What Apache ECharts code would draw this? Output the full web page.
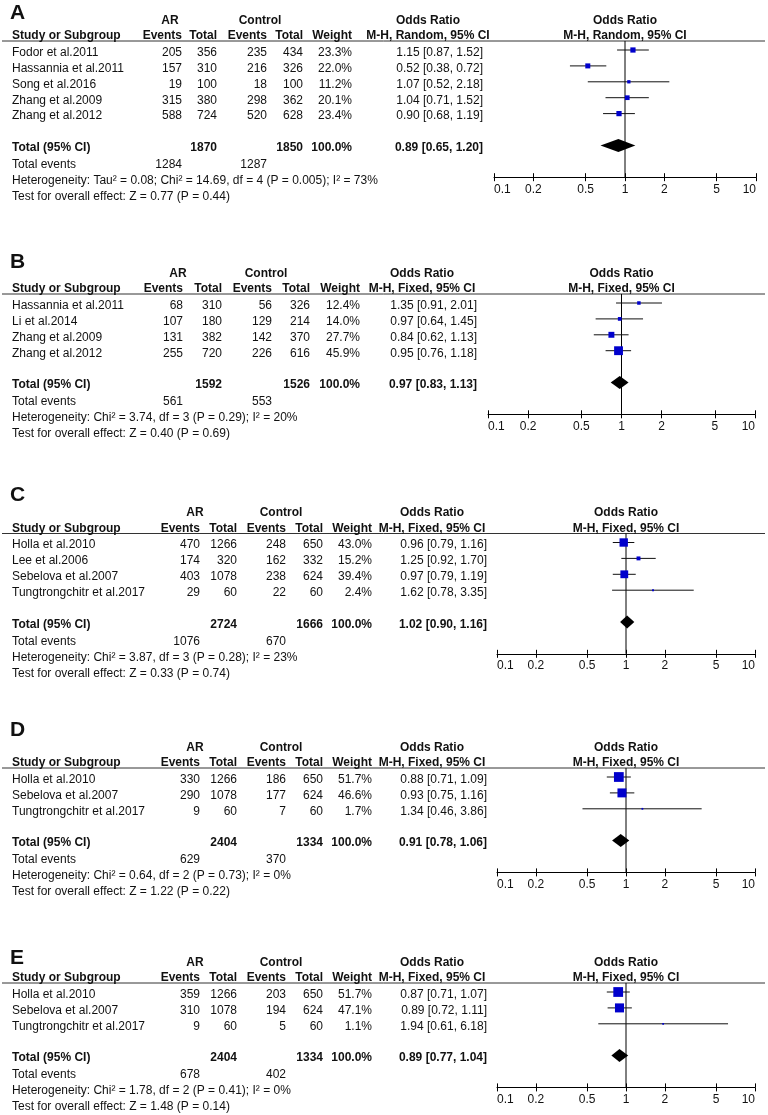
<!DOCTYPE html>
<html><head><meta charset="utf-8">
<script src="https://cdn.jsdelivr.net/npm/echarts@6/dist/echarts.min.js"></script>
<style>html,body{margin:0;padding:0;background:#fff}#c{width:768px;height:1115px}</style>
</head><body><div id="c"></div><script>
// ---------- DATA ----------
const ticks = [0.1, 0.2, 0.5, 1, 2, 5, 10];

const A_studies = ['Fodor et al.2011','Hassannia et al.2011','Song et al.2016','Zhang et al.2009','Zhang et al.2012'];
const A_arEvents = [205,157,19,315,588];
const A_arTotal = [356,310,100,380,724];
const A_ctEvents = [235,216,18,298,520];
const A_ctTotal = [434,326,100,362,628];
const A_weight = [23.3,22.0,11.2,20.1,23.4];
const A_or = [1.15,0.52,1.07,1.04,0.90];
const A_lo = [0.87,0.38,0.52,0.71,0.68];
const A_hi = [1.52,0.72,2.18,1.52,1.19];
const A_sumTotal = [1870,1850];
const A_sumEvents = [1284,1287];
const A_pooled = [0.89,0.65,1.20];
const A_method = 'M-H, Random, 95% CI';
const A_het = 'Heterogeneity: Tau\u00b2 = 0.08; Chi\u00b2 = 14.69, df = 4 (P = 0.005); I\u00b2 = 73%';
const A_test = 'Test for overall effect: Z = 0.77 (P = 0.44)';

const B_studies = ['Hassannia et al.2011','Li et al.2014','Zhang et al.2009','Zhang et al.2012'];
const B_arEvents = [68,107,131,255];
const B_arTotal = [310,180,382,720];
const B_ctEvents = [56,129,142,226];
const B_ctTotal = [326,214,370,616];
const B_weight = [12.4,14.0,27.7,45.9];
const B_or = [1.35,0.97,0.84,0.95];
const B_lo = [0.91,0.64,0.62,0.76];
const B_hi = [2.01,1.45,1.13,1.18];
const B_sumTotal = [1592,1526];
const B_sumEvents = [561,553];
const B_pooled = [0.97,0.83,1.13];
const B_method = 'M-H, Fixed, 95% CI';
const B_het = 'Heterogeneity: Chi\u00b2 = 3.74, df = 3 (P = 0.29); I\u00b2 = 20%';
const B_test = 'Test for overall effect: Z = 0.40 (P = 0.69)';

const C_studies = ['Holla et al.2010','Lee et al.2006','Sebelova et al.2007','Tungtrongchitr et al.2017'];
const C_arEvents = [470,174,403,29];
const C_arTotal = [1266,320,1078,60];
const C_ctEvents = [248,162,238,22];
const C_ctTotal = [650,332,624,60];
const C_weight = [43.0,15.2,39.4,2.4];
const C_or = [0.96,1.25,0.97,1.62];
const C_lo = [0.79,0.92,0.79,0.78];
const C_hi = [1.16,1.70,1.19,3.35];
const C_sumTotal = [2724,1666];
const C_sumEvents = [1076,670];
const C_pooled = [1.02,0.90,1.16];
const C_method = 'M-H, Fixed, 95% CI';
const C_het = 'Heterogeneity: Chi\u00b2 = 3.87, df = 3 (P = 0.28); I\u00b2 = 23%';
const C_test = 'Test for overall effect: Z = 0.33 (P = 0.74)';

const D_studies = ['Holla et al.2010','Sebelova et al.2007','Tungtrongchitr et al.2017'];
const D_arEvents = [330,290,9];
const D_arTotal = [1266,1078,60];
const D_ctEvents = [186,177,7];
const D_ctTotal = [650,624,60];
const D_weight = [51.7,46.6,1.7];
const D_or = [0.88,0.93,1.34];
const D_lo = [0.71,0.75,0.46];
const D_hi = [1.09,1.16,3.86];
const D_sumTotal = [2404,1334];
const D_sumEvents = [629,370];
const D_pooled = [0.91,0.78,1.06];
const D_method = 'M-H, Fixed, 95% CI';
const D_het = 'Heterogeneity: Chi\u00b2 = 0.64, df = 2 (P = 0.73); I\u00b2 = 0%';
const D_test = 'Test for overall effect: Z = 1.22 (P = 0.22)';

const E_studies = ['Holla et al.2010','Sebelova et al.2007','Tungtrongchitr et al.2017'];
const E_arEvents = [359,310,9];
const E_arTotal = [1266,1078,60];
const E_ctEvents = [203,194,5];
const E_ctTotal = [650,624,60];
const E_weight = [51.7,47.1,1.1];
const E_or = [0.87,0.89,1.94];
const E_lo = [0.71,0.72,0.61];
const E_hi = [1.07,1.11,6.18];
const E_sumTotal = [2404,1334];
const E_sumEvents = [678,402];
const E_pooled = [0.89,0.77,1.04];
const E_method = 'M-H, Fixed, 95% CI';
const E_het = 'Heterogeneity: Chi\u00b2 = 1.78, df = 2 (P = 0.41); I\u00b2 = 0%';
const E_test = 'Test for overall effect: Z = 1.48 (P = 0.14)';

const panels = [
  {id:'A', studies:A_studies, arE:A_arEvents, arT:A_arTotal, ctE:A_ctEvents, ctT:A_ctTotal, w:A_weight, or:A_or, lo:A_lo, hi:A_hi, sumT:A_sumTotal, sumE:A_sumEvents, pooled:A_pooled, method:A_method, het:A_het, test:A_test},
  {id:'B', studies:B_studies, arE:B_arEvents, arT:B_arTotal, ctE:B_ctEvents, ctT:B_ctTotal, w:B_weight, or:B_or, lo:B_lo, hi:B_hi, sumT:B_sumTotal, sumE:B_sumEvents, pooled:B_pooled, method:B_method, het:B_het, test:B_test},
  {id:'C', studies:C_studies, arE:C_arEvents, arT:C_arTotal, ctE:C_ctEvents, ctT:C_ctTotal, w:C_weight, or:C_or, lo:C_lo, hi:C_hi, sumT:C_sumTotal, sumE:C_sumEvents, pooled:C_pooled, method:C_method, het:C_het, test:C_test},
  {id:'D', studies:D_studies, arE:D_arEvents, arT:D_arTotal, ctE:D_ctEvents, ctT:D_ctTotal, w:D_weight, or:D_or, lo:D_lo, hi:D_hi, sumT:D_sumTotal, sumE:D_sumEvents, pooled:D_pooled, method:D_method, het:D_het, test:D_test},
  {id:'E', studies:E_studies, arE:E_arEvents, arT:E_arTotal, ctE:E_ctEvents, ctT:E_ctTotal, w:E_weight, or:E_or, lo:E_lo, hi:E_hi, sumT:E_sumTotal, sumE:E_sumEvents, pooled:E_pooled, method:E_method, het:E_het, test:E_test}
];

// ---------- LAYOUT ----------
const CW = [200,237,286,323,372];
const layout = [
  {label:13,  u:41,    cols:[182,217,267,303,352], ar:170, ct:260, orR:483, orH:428, fx:[494,756]},
  {label:262, u:294,   cols:[183,222,272,310,360], ar:178, ct:266, orR:477, orH:422, fx:[488,755]},
  {label:495, u:533.5, cols:CW, ar:195, ct:281, orR:487, orH:432, fx:[497,755]},
  {label:730, u:768,   cols:CW, ar:195, ct:281, orR:487, orH:432, fx:[497,755]},
  {label:958, u:983,   cols:CW, ar:195, ct:281, orR:487, orH:432, fx:[497,755]}
];
const RS = 15.9, R0 = 9, TOFF = 2.5;
const FONT = '"Liberation Sans", Arial, Helvetica, sans-serif';
const INK = '#111';

function T(x, y, text, align, bold, size) {
  return {type:'text', x:x, y:y, silent:true, z:10,
    style:{text:String(text), font:(bold?'bold ':'')+(size||12)+'px '+FONT, fill:INK,
      align:align||'left', textAlign:align||'left', verticalAlign:'middle', textVerticalAlign:'middle'}};
}
const f2 = v => v.toFixed(2);
const orTxt = (o,l,h) => f2(o)+' ['+f2(l)+', '+f2(h)+']';

const graphics = [], grids = [], xAxes = [], yAxes = [], series = [];

panels.forEach((p, k) => {
  const L = layout[k];
  const n = p.studies.length;
  const ymin = -R0/RS, ymax = n + 3;
  const gh = (ymax - ymin) * RS;
  const cx = (L.fx[0] + L.fx[1]) / 2;
  graphics.push(T(10, L.label, p.id, 'left', true, 21));
  const h1 = L.u - 20.5, h2 = L.u - 5;
  graphics.push(T(L.ar, h1, 'AR', 'center', true));
  graphics.push(T(L.ct, h1, 'Control', 'center', true));
  graphics.push(T(L.orH, h1, 'Odds Ratio', 'center', true));
  graphics.push(T(cx, h1, 'Odds Ratio', 'center', true));
  graphics.push(T(12, h2, 'Study or Subgroup', 'left', true));
  ['Events','Total','Events','Total','Weight'].forEach((h,i) => graphics.push(T(L.cols[i], h2, h, 'right', true)));
  graphics.push(T(L.orH, h2, p.method, 'center', true));
  graphics.push(T(cx, h2, p.method, 'center', true));
  graphics.push({type:'line', silent:true, shape:{x1:2, y1:L.u, x2:765, y2:L.u}, style:{stroke:'#333', lineWidth:1}});
  for (let i = 0; i < n; i++) {
    const y = L.u + R0 + i*RS + TOFF;
    graphics.push(T(12, y, p.studies[i], 'left'));
    [p.arE[i], p.arT[i], p.ctE[i], p.ctT[i], p.w[i].toFixed(1)+'%'].forEach((v,j) => graphics.push(T(L.cols[j], y, v, 'right')));
    graphics.push(T(L.orR, y, orTxt(p.or[i], p.lo[i], p.hi[i]), 'right'));
  }
  const ty = L.u + R0 + (n+1)*RS + TOFF;
  graphics.push(T(12, ty, 'Total (95% CI)', 'left', true));
  graphics.push(T(L.cols[1], ty, p.sumT[0], 'right', true));
  graphics.push(T(L.cols[3], ty, p.sumT[1], 'right', true));
  graphics.push(T(L.cols[4], ty, '100.0%', 'right', true));
  graphics.push(T(L.orR, ty, orTxt(p.pooled[0], p.pooled[1], p.pooled[2]), 'right', true));
  graphics.push(T(12, ty+17, 'Total events', 'left'));
  graphics.push(T(L.cols[0], ty+17, p.sumE[0], 'right'));
  graphics.push(T(L.cols[2], ty+17, p.sumE[1], 'right'));
  graphics.push(T(12, ty+33, p.het, 'left'));
  graphics.push(T(12, ty+49, p.test, 'left'));

  const g = {left:L.fx[0], width:L.fx[1]-L.fx[0], top:L.u, height:gh, outerBoundsMode:'none', containLabel:false};
  grids.push(Object.assign({}, g));
  grids.push(Object.assign({}, g));
  const gi = grids.length - 2;
  xAxes.push({type:'log', logBase:10, min:0.1, max:10, gridIndex:gi, position:'bottom',
    axisLine:{show:true, onZero:false, lineStyle:{color:'#000', width:1}},
    axisTick:{show:true, customValues:ticks, length:4, lineStyle:{color:'#000', width:1}},
    axisLabel:{show:true, customValues:ticks, color:INK, fontSize:12, fontFamily:FONT, margin:6,
      alignMinLabel:'left', alignMaxLabel:'right',
      formatter: v => String(+(+v).toPrecision(3))},
    splitLine:{show:false}, minorTick:{show:false}});
  xAxes.push({type:'log', logBase:10, min:0.1, max:10, gridIndex:gi+1, position:'bottom',
    axisLine:{show:false, onZero:false},
    axisTick:{show:true, inside:true, customValues:ticks, length:4, lineStyle:{color:'#000', width:1}},
    axisLabel:{show:false}, splitLine:{show:false}});
  yAxes.push({type:'value', gridIndex:gi, inverse:true, min:ymin, max:ymax, show:false});
  yAxes.push({type:'value', gridIndex:gi+1, inverse:true, min:ymin, max:ymax, show:false});
  const xi = xAxes.length - 2, yi = yAxes.length - 2;

  series.push({type:'line', xAxisIndex:xi, yAxisIndex:yi, data:[[1, ymin],[1, ymax]], symbol:'none',
    lineStyle:{color:'#000', width:1}, silent:true, z:1, animation:false});
  const data = p.studies.map((s,i) => [p.or[i], p.lo[i], p.hi[i], i, p.w[i], 0]);
  data.push([p.pooled[0], p.pooled[1], p.pooled[2], n+1, 100, 1]);
  series.push({type:'custom', xAxisIndex:xi, yAxisIndex:yi, data:data, z:3, animation:false, silent:true,
    encode:{x:[0,1,2], y:3},
    renderItem:(params, api) => {
      const yv = api.value(3);
      const c = api.coord([api.value(0), yv]);
      const l = api.coord([api.value(1), yv]);
      const h = api.coord([api.value(2), yv]);
      if (api.value(5) === 1) {
        return {type:'polygon', shape:{points:[[l[0],c[1]],[c[0],c[1]-6.5],[h[0],c[1]],[c[0],c[1]+6.5]]},
          style:{fill:'#000'}};
      }
      const s = 1.5 + 0.16*api.value(4);
      return {type:'group', children:[
        {type:'line', shape:{x1:l[0], y1:c[1], x2:h[0], y2:c[1]}, style:{stroke:'#111', lineWidth:1}},
        {type:'rect', shape:{x:c[0]-s/2, y:c[1]-s/2, width:s, height:s}, style:{fill:'#0000cc'}}
      ]};
    }});
});

const chart = echarts.init(document.getElementById('c'), null, {renderer:'canvas'});
chart.setOption({
  animation:false,
  backgroundColor:'#fff',
  grid:grids, xAxis:xAxes, yAxis:yAxes, series:series,
  graphic:{elements:graphics}
});
</script></body></html>
